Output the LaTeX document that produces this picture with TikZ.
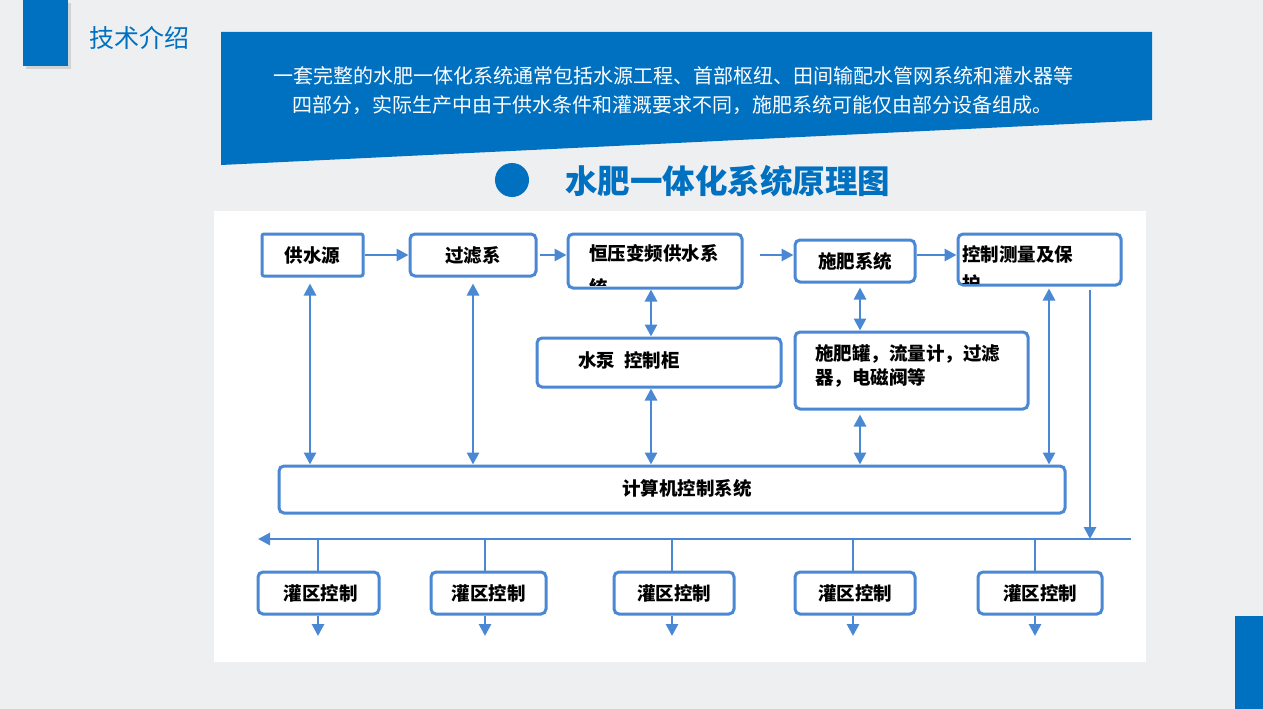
\documentclass[tikz,border=0pt]{standalone}
\usepackage{fontspec}
\setmainfont{Noto Sans CJK SC}
\usetikzlibrary{arrows.meta,shadows}
\definecolor{bgc}{RGB}{238,239,241}
\definecolor{mblue}{RGB}{0,112,192}
\definecolor{lblue}{RGB}{74,136,212}
\begin{document}
\begin{tikzpicture}[x=1pt,y=-1pt,
  box/.style={draw=lblue,line width=3pt,rounded corners=5pt,fill=white,inner sep=0pt,font=\bfseries\fontsize{18.5}{22}\selectfont},
  con/.style={draw=lblue,line width=2.8pt,-{Triangle[length=12pt,width=12pt]}},
  dbl/.style={draw=lblue,line width=2.8pt,{Triangle[length=12pt,width=12pt]}-{Triangle[length=12pt,width=12pt]}},
  pl/.style={draw=lblue,line width=2.8pt},
  lbl/.style={inner sep=0pt,font=\bfseries\fontsize{18.5}{22}\selectfont}]
\useasboundingbox (0,0) rectangle (1263,709);
\fill[bgc] (0,0) rectangle (1263,709);
% decorations
\fill[mblue,drop shadow={opacity=0.25,shadow xshift=3pt,shadow yshift=-3pt}] (23,0) rectangle (68,66);
\node[anchor=west,inner sep=0pt,text=mblue,font=\fontsize{25}{30}\selectfont] (ttl) at (89,38) {技术介绍};
\fill[mblue] (221,32) -- (1152,32) -- (1152,120) -- (221,165) -- cycle;
\node[inner sep=0pt,text=white,font=\fontsize{20}{24}\selectfont] (b1) at (673,76) {一套完整的水肥一体化系统通常包括水源工程、首部枢纽、田间输配水管网系统和灌水器等};
\node[inner sep=0pt,text=white,font=\fontsize{20}{24}\selectfont] (b2) at (672,105) {四部分，实际生产中由于供水条件和灌溉要求不同，施肥系统可能仅由部分设备组成。};
\fill[mblue] (512,180) circle (17);
\node[anchor=west,inner sep=0pt,text=mblue,font=\bfseries\fontsize{32.5}{38}\selectfont] (big) at (565,181) {水肥一体化系统原理图};
\fill[mblue] (1235,616) rectangle (1263,709);
% panel
\fill[white] (214,211) rectangle (1146,662);
% top row
\node[box,rounded corners=2pt,minimum width=101pt,minimum height=42pt] (gsy) at (312.5,255) {供水源};
\node[box,minimum width=126pt,minimum height=42pt] (glx) at (473,255) {过滤系};
\node[box,minimum width=174pt,minimum height=54pt] (hy) at (655,261) {};
\begin{scope}
\clip (570,236) rectangle (740,285);
\node[lbl,anchor=west] (hyt) at (589,253) {恒压变频供水系};
\node[lbl,anchor=west] (hyt2) at (589,287) {统};
\end{scope}
\node[box,minimum width=120pt,minimum height=42pt] (sf) at (855,261) {施肥系统};
\node[box,minimum width=163pt,minimum height=51pt] (kz) at (1039.5,259.5) {};
\begin{scope}
\clip (960,236) rectangle (1119,283);
\node[lbl,anchor=west] (kzt) at (962,254) {控制测量及保};
\node[lbl,anchor=west] (kzt2) at (962,284) {护};
\end{scope}
% middle
\node[box,minimum width=244pt,minimum height=49pt] (sb) at (659,362.5) {};
\node[lbl,anchor=west] (sbt) at (578,360) {水泵\hspace{0.5em}控制柜};
\node[box,minimum width=233pt,minimum height=77pt] (sfg) at (911.5,370.5) {};
\node[lbl,anchor=north west,align=left,font=\bfseries\fontsize{18.5}{24}\selectfont] (sfgt) at (815,344) {施肥罐，流量计，过滤\\器，电磁阀等};
\node[box,minimum width=786pt,minimum height=47pt] (jsj) at (672,489.5) {};
\node[lbl] (jsjt) at (687,488) {计算机控制系统};
% zones
\node[box,minimum width=121pt,minimum height=42pt] (z1) at (318.5,593) {\hspace{4pt}灌区控制};
\node[box,minimum width=115pt,minimum height=42pt] (z2) at (488.5,593) {灌区控制};
\node[box,minimum width=120pt,minimum height=42pt] (z3) at (674,593) {灌区控制};
\node[box,minimum width=120pt,minimum height=42pt] (z4) at (855,593) {灌区控制};
\node[box,minimum width=124pt,minimum height=42pt] (z5) at (1040,593) {灌区控制};
% coordinates
\coordinate (x1) at (310,0);
\coordinate (x2) at (473,0);
\coordinate (x3) at (651,0);
\coordinate (x4) at (860,0);
\coordinate (x5) at (1049,0);
\coordinate (busL) at (258,539);
\coordinate (busR) at (1131,539);
\coordinate (rtop) at (1090,290);
\coordinate (rbot) at (1090,539);
\coordinate (d1) at (318,539);
\coordinate (d2) at (485,539);
\coordinate (d3) at (672,539);
\coordinate (d4) at (853,539);
\coordinate (d5) at (1035,539);
\coordinate (e1) at (318,636);
\coordinate (e2) at (485,636);
\coordinate (e3) at (672,636);
\coordinate (e4) at (853,636);
\coordinate (e5) at (1035,636);
% horizontal arrows
\draw[con] (gsy.east) -- (glx.west |- gsy.east);
\draw[con,shorten <=2pt] (glx.east) -- (hy.west |- glx.east);
\draw[con,shorten <=16pt] (hy.east |- glx.east) -- (sf.west |- glx.east);
\draw[con] (sf.east |- glx.east) -- (kz.west |- glx.east);
% vertical double arrows
\draw[dbl,shorten <=6pt] (gsy.south -| x1) -- (jsj.north -| x1);
\draw[dbl,shorten <=6pt] (glx.south -| x2) -- (jsj.north -| x2);
\draw[dbl] (hy.south -| x3) -- (sb.north -| x3);
\draw[dbl] (sb.south -| x3) -- (jsj.north -| x3);
\draw[dbl,shorten <=4pt] (sf.south -| x4) -- (sfg.north -| x4);
\draw[dbl,shorten <=4pt] (sfg.south -| x4) -- (jsj.north -| x4);
\draw[dbl,shorten <=2pt] (kz.south -| x5) -- (jsj.north -| x5);
% bus
\draw[con] (busR) -- (busL);
\draw[con] (rtop) -- (rbot);
\draw[pl] (d1) -- (z1.north -| d1);
\draw[pl] (d2) -- (z2.north -| d2);
\draw[pl] (d3) -- (z3.north -| d3);
\draw[pl] (d4) -- (z4.north -| d4);
\draw[pl] (d5) -- (z5.north -| d5);
\draw[con] (z1.south -| e1) -- (e1);
\draw[con] (z2.south -| e2) -- (e2);
\draw[con] (z3.south -| e3) -- (e3);
\draw[con] (z4.south -| e4) -- (e4);
\draw[con] (z5.south -| e5) -- (e5);
\end{tikzpicture}
\end{document}
